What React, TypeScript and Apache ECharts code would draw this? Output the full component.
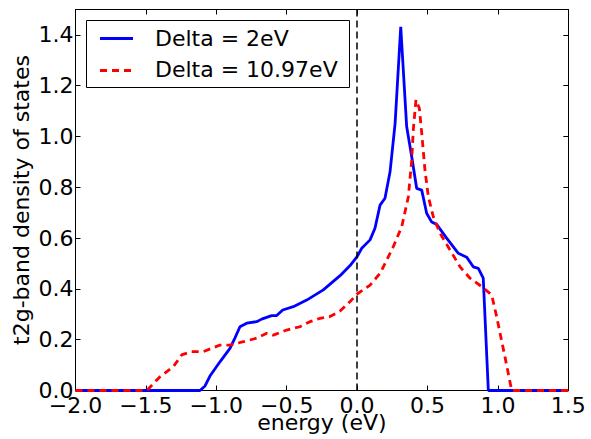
import React, { useEffect, useRef } from "react";
import * as echarts from "echarts";

const xTicksInterval = 0.5;
const yTicksInterval = 0.2;

const blueName = "Delta = 2eV";
const redName = "Delta = 10.97eV";

const blueX = [-2.0, -1.116, -1.08, -1.045, -0.974, -0.903, -0.868, -0.832, -0.784, -0.713, -0.678, -0.607, -0.571, -0.528, -0.453, -0.358, -0.24, -0.121, -0.05, 0.0, 0.033, 0.092, 0.127, 0.163, 0.198, 0.234, 0.27, 0.31, 0.352, 0.388, 0.423, 0.459, 0.494, 0.53, 0.565, 0.636, 0.719, 0.778, 0.825, 0.861, 0.896, 0.932, 1.5];
const blueY = [0, 0, 0.018, 0.057, 0.113, 0.166, 0.206, 0.251, 0.265, 0.271, 0.281, 0.295, 0.295, 0.317, 0.33, 0.356, 0.396, 0.452, 0.492, 0.527, 0.56, 0.593, 0.639, 0.73, 0.757, 0.861, 1.052, 1.432, 1.039, 0.92, 0.796, 0.789, 0.698, 0.663, 0.654, 0.6, 0.54, 0.525, 0.487, 0.481, 0.442, 0, 0];

const redX = [-2.0, -1.494, -1.4, -1.305, -1.246, -1.175, -1.092, -1.033, -0.974, -0.903, -0.808, -0.713, -0.642, -0.595, -0.5, -0.406, -0.335, -0.264, -0.193, -0.121, -0.05, 0.0, 0.092, 0.163, 0.257, 0.317, 0.364, 0.388, 0.399, 0.418, 0.442, 0.459, 0.482, 0.506, 0.541, 0.589, 0.66, 0.731, 0.802, 0.885, 0.956, 0.991, 1.05, 1.098, 1.5];
const redY = [0, 0, 0.054, 0.094, 0.14, 0.153, 0.153, 0.166, 0.179, 0.179, 0.192, 0.206, 0.225, 0.218, 0.238, 0.251, 0.271, 0.284, 0.291, 0.313, 0.35, 0.38, 0.415, 0.461, 0.566, 0.645, 0.763, 0.907, 1.026, 1.144, 1.111, 1.013, 0.868, 0.763, 0.684, 0.619, 0.553, 0.487, 0.442, 0.409, 0.376, 0.291, 0.133, 0, 0];

const FONT = "DejaVu Sans";
const FS = 22;
const BLUE = "#0000ff";
const RED = "#ff0000";
const RED_DASH = [7, 5];

export default function App() {
  const ref = useRef<HTMLDivElement>(null);
  useEffect(() => {
    document.body.style.margin = "0";
    const chart = echarts.init(ref.current!, null, { renderer: "svg" });
    const pairs = (xs: number[], ys: number[]) => xs.map((x, i) => [x, ys[i]]);
    const fmtX = (v: number) => (v < 0 ? "\u2212" : "") + Math.abs(v).toFixed(1);
    const fmtY = (v: number) => v.toFixed(1);
    const axisCommon = {
      type: "value",
      axisLine: { show: true, onZero: false, lineStyle: { color: "#000", width: 1 } },
      axisTick: { show: true, inside: true, length: 5, lineStyle: { color: "#000", width: 1 } },
      splitLine: { show: false },
    };
    const legendText = (text: string, y: number) => ({
      type: "text",
      z: 5,
      x: 155,
      y,
      style: { text, fontFamily: FONT, fontSize: FS, fill: "#000", verticalAlign: "middle", align: "left" },
    });
    chart.setOption({
      animation: false,
      backgroundColor: "#fff",
      textStyle: { fontFamily: FONT },
      grid: { left: 75.5, right: 22.7, top: 9.5, bottom: 48.5, containLabel: false, outerBoundsMode: "none" },
      xAxis: [
        {
          ...axisCommon,
          position: "bottom",
          min: -2,
          max: 1.5,
          interval: xTicksInterval,
          name: "energy (eV)",
          nameLocation: "middle",
          nameGap: 24,
          nameMoveOverlap: false,
          nameTextStyle: { fontFamily: FONT, fontSize: FS, lineHeight: 16, color: "#000", verticalAlign: "top" },
          axisLabel: { margin: 5.5, fontFamily: FONT, fontSize: FS, lineHeight: 18, color: "#000", formatter: fmtX },
        },
        {
          ...axisCommon,
          position: "top",
          min: -2,
          max: 1.5,
          interval: xTicksInterval,
          axisLabel: { show: false },
        },
      ],
      yAxis: [
        {
          ...axisCommon,
          position: "left",
          min: 0,
          max: 1.5,
          interval: yTicksInterval,
          name: "t2g-band density of states",
          nameLocation: "middle",
          nameGap: 43.5,
          nameMoveOverlap: false,
          nameTextStyle: { fontFamily: FONT, fontSize: FS, color: "#000" },
          axisLabel: { margin: 2, fontFamily: FONT, fontSize: FS, color: "#000", formatter: fmtY, showMaxLabel: false },
        },
        {
          ...axisCommon,
          position: "right",
          min: 0,
          max: 1.5,
          interval: yTicksInterval,
          axisLabel: { show: false },
        },
      ],
      graphic: [
        {
          type: "rect",
          z: 3,
          shape: { x: 86.5, y: 20.5, width: 263, height: 67 },
          style: { fill: "#fff", stroke: "#000", lineWidth: 1 },
        },
        {
          type: "line",
          z: 5,
          shape: { x1: 100, y1: 38.5, x2: 133, y2: 38.5 },
          style: { stroke: BLUE, lineWidth: 2.8 },
        },
        {
          type: "line",
          z: 5,
          shape: { x1: 100, y1: 70.5, x2: 133, y2: 70.5 },
          style: { stroke: RED, lineWidth: 2.8, lineDash: RED_DASH },
        },
        legendText(blueName, 38.7),
        legendText(redName, 69.8),
      ],
      series: [
        {
          name: blueName,
          type: "line",
          data: pairs(blueX, blueY),
          showSymbol: false,
          symbol: "none",
          lineStyle: { color: BLUE, width: 2.8 },
          itemStyle: { color: BLUE },
          z: 2,
          markLine: {
            silent: true,
            symbol: ["none", "none"],
            label: { show: false },
            lineStyle: { color: "#000", type: [7, 4], width: 1.5 },
            data: [{ xAxis: 0 }],
          },
        },
        {
          name: redName,
          type: "line",
          data: pairs(redX, redY),
          showSymbol: false,
          symbol: "none",
          lineStyle: { color: RED, width: 2.8, type: RED_DASH },
          itemStyle: { color: RED },
          z: 2,
        },
      ],
    });
    return () => chart.dispose();
  }, []);
  return <div ref={ref} style={{ width: 591, height: 439 }} />;
}
